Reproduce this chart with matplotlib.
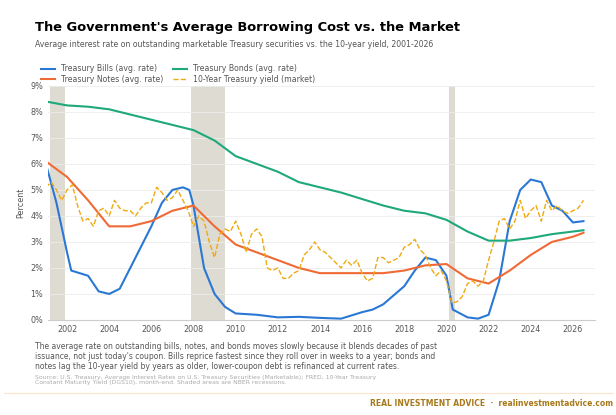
import numpy as np
import matplotlib.pyplot as plt

bills_x = [2001, 2001.5, 2002, 2002.2, 2003, 2003.5, 2004, 2004.5, 2005, 2005.5, 2006, 2006.5, 2007, 2007.5, 2007.8,
           2008, 2008.5, 2009, 2009.5, 2010, 2011, 2012, 2013, 2014, 2015, 2016, 2016.5, 2017, 2018, 2018.5,
           2019, 2019.5, 2020, 2020.3, 2021, 2021.5, 2022, 2022.5, 2023, 2023.5, 2024, 2024.5, 2025, 2025.5, 2026, 2026.5]
bills = [6.0, 4.5, 2.6, 1.9, 1.7, 1.1, 1.0, 1.2, 2.0, 2.8, 3.6, 4.5, 5.0, 5.1, 5.0,
         4.4, 2.0, 1.0, 0.5, 0.25, 0.2, 0.1, 0.12, 0.08, 0.05, 0.3, 0.4, 0.6, 1.3, 1.9,
         2.4, 2.3, 1.7, 0.4, 0.1, 0.05, 0.2, 1.5, 3.8, 5.0, 5.4, 5.3, 4.4, 4.2, 3.75, 3.8]

notes_x = [2001, 2002, 2003, 2004, 2005, 2006, 2007, 2008, 2009, 2010, 2011, 2012, 2013, 2014, 2016, 2017,
           2018, 2019, 2020, 2021, 2022, 2023, 2024, 2025, 2026, 2026.5]
notes = [6.1, 5.5, 4.6, 3.6, 3.6, 3.8, 4.2, 4.4, 3.6, 2.9, 2.6, 2.3, 2.0, 1.8, 1.8, 1.8,
         1.9, 2.1, 2.15, 1.6, 1.4, 1.9, 2.5, 3.0, 3.2, 3.35]

bonds_x = list(range(2001, 2027)) + [2026.5]
bonds = [8.4, 8.25, 8.2, 8.1, 7.9, 7.7, 7.5, 7.3, 6.9, 6.3, 6.0, 5.7, 5.3, 5.1, 4.9, 4.65, 4.4,
         4.2, 4.1, 3.85, 3.4, 3.05, 3.05, 3.15, 3.3, 3.4, 3.45]

ten_y = [5.1, 5.3, 5.0, 4.6, 5.0, 5.2, 4.4, 3.8, 3.9, 3.6, 4.2, 4.3, 4.0, 4.6, 4.3, 4.2,
         4.2, 4.0, 4.3, 4.5, 4.5, 5.1, 4.9, 4.6, 4.7, 5.0, 4.6, 4.2, 3.6, 4.0, 3.8, 3.0,
         2.4, 3.3, 3.5, 3.4, 3.8, 3.3, 2.6, 3.3, 3.5, 3.2, 2.0, 1.9, 2.0, 1.6, 1.6, 1.8,
         1.9, 2.5, 2.7, 3.0, 2.7, 2.6, 2.4, 2.2, 2.0, 2.3, 2.1, 2.3, 1.8, 1.5, 1.6, 2.4,
         2.4, 2.2, 2.3, 2.4, 2.8, 2.9, 3.1, 2.7, 2.5, 2.0, 1.7, 1.9, 1.5, 0.65, 0.7, 0.9,
         1.4, 1.5, 1.3, 1.5, 2.3, 3.0, 3.8, 3.9, 3.5, 3.8, 4.6, 3.9, 4.2, 4.4, 3.8, 4.6,
         4.2, 4.4, 4.2, 4.1, 4.2, 4.3, 4.6]
ten_x = 2001 + 0.25 * np.arange(len(ten_y))

recessions = [(2001.2, 2001.9), (2007.9, 2009.5), (2020.1, 2020.4)]

fig = plt.figure(figsize=(6.16, 4.15), dpi=100)
ax = fig.add_axes([0.078, 0.229, 0.888, 0.564])

for a, b in recessions:
    ax.axvspan(a, b, color='#dedbd3', lw=0)
ax.plot(bills_x, bills, color='#2a78d4', lw=1.5, label='Treasury Bills (avg. rate)')
ax.plot(notes_x, notes, color='#f06a35', lw=1.5, label='Treasury Notes (avg. rate)')
ax.plot(bonds_x, bonds, color='#1fa87a', lw=1.5, label='Treasury Bonds (avg. rate)')
ax.plot(ten_x, ten_y, color='#f0aa10', lw=1.0, ls='--', label='10-Year Treasury yield (market)')

ax.set_xlim(2001.1, 2027.05)
ax.set_ylim(0, 9)
ax.set_xticks(range(2002, 2027, 2))
ax.set_yticks(range(0, 10))
ax.set_yticklabels([f'{v}%' for v in range(0, 10)])
ax.tick_params(labelsize=5.8, colors='#555555', length=0)
ax.set_ylabel('Percent', fontsize=5.8, color='#555555')
ax.grid(axis='y', color='#ececec', lw=0.6)
for s in ['top', 'right', 'left']:
    ax.spines[s].set_visible(False)
ax.spines['bottom'].set_color('#cccccc')

fig.legend(loc='upper left', bbox_to_anchor=(0.055, 0.862), ncol=2, fontsize=5.6, frameon=False,
           handlelength=1.8, columnspacing=1.2, labelspacing=0.25, labelcolor='#555555')

fig.text(0.057, 0.925, "The Government's Average Borrowing Cost vs. the Market", fontsize=9.4, weight='bold')
fig.text(0.057, 0.887, 'Average interest rate on outstanding marketable Treasury securities vs. the 10-year yield, 2001-2026',
         fontsize=5.6, color='#555555')
fig.text(0.057, 0.175, 'The average rate on outstanding bills, notes, and bonds moves slowly because it blends decades of past\n'
         "issuance, not just today's coupon. Bills reprice fastest since they roll over in weeks to a year; bonds and\n"
         'notes lag the 10-year yield by years as older, lower-coupon debt is refinanced at current rates.',
         fontsize=5.5, color='#555555', linespacing=1.15, va='top')
fig.text(0.057, 0.097, 'Source: U.S. Treasury, Average Interest Rates on U.S. Treasury Securities (Marketable); FRED, 10-Year Treasury\n'
         'Constant Maturity Yield (DGS10), month-end. Shaded areas are NBER recessions.',
         fontsize=4.45, color='#aaaaaa', linespacing=1.15, va='top')
fig.add_artist(plt.Line2D([0.007, 0.995], [0.053, 0.053], color='#fbe3cc', lw=0.8, transform=fig.transFigure))
fig.text(0.995, 0.027, 'REAL INVESTMENT ADVICE  ·  realinvestmentadvice.com', fontsize=5.5, weight='bold',
         color='#a8791a', ha='right', va='center')
fig.savefig('out.png', dpi=100)
